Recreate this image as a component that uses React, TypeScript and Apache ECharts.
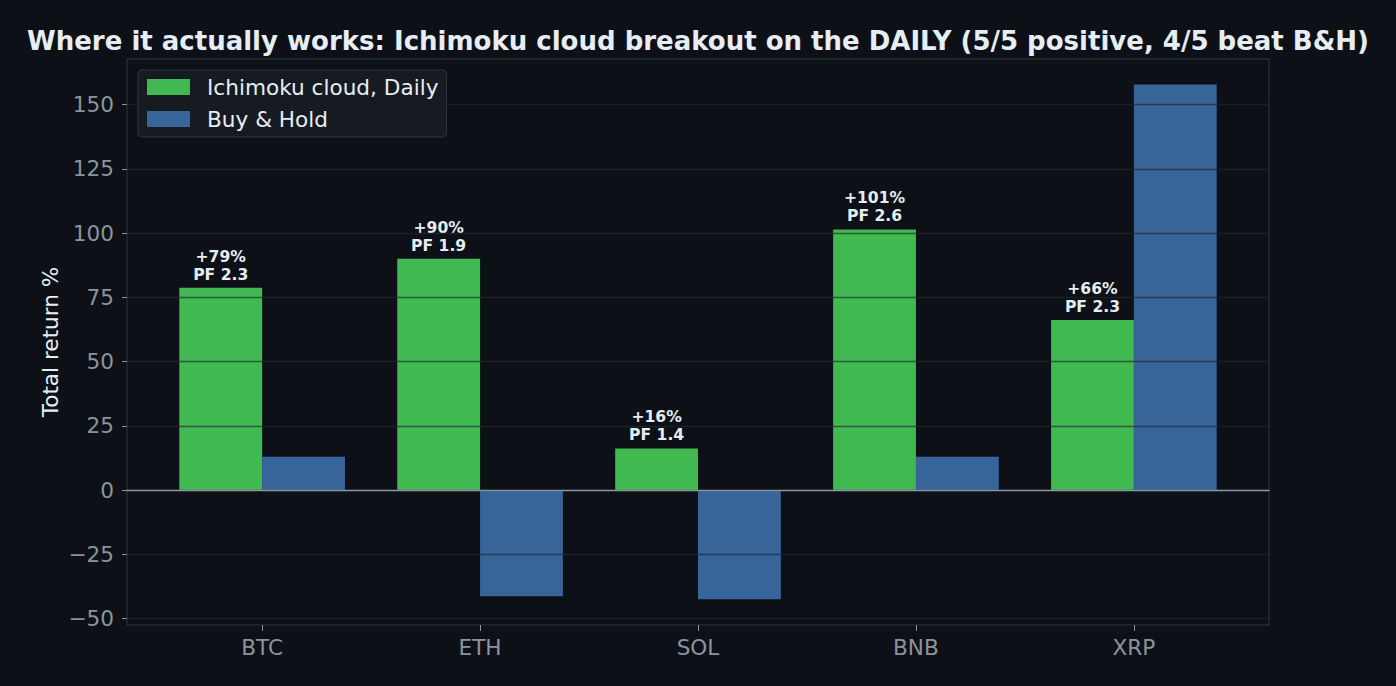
import React, { useEffect, useRef } from "react";
import * as echarts from "echarts";

const categories = ["BTC", "ETH", "SOL", "BNB", "XRP"];
const ichimokuReturns = [78.7, 90.0, 16.2, 101.4, 66.2];
const buyHoldReturns = [13.0, -41.3, -42.5, 13.0, 157.8];
const profitFactors = [2.3, 1.9, 1.4, 2.6, 2.3];
const yTickMin = -50;
const yTickMax = 150;
const yTickStep = 25;

const W = 1396;
const H = 686;
const plotLeft = 127;
const plotRight = 127;
const plotTop = 59;
const plotBottom = 61;
const yMin = -52.5;
const yMax = 167.7;
const xPad = 0.62; // category units of padding on each side of the outer bar centers

const BG = "#0d1117";
const FRAME = "#30363d";
const TEXT = "#e6edf3";
const MUTED = "#8b949e";
const GREEN = "#40b950";
const BLUE = "#386599";
const FS = 21.6;

export default function App() {
  const ref = useRef<HTMLDivElement>(null);
  useEffect(() => {
    if (!ref.current) return;
    const chart = echarts.init(ref.current, undefined, { renderer: "svg" });
    const plotH = H - plotTop - plotBottom;
    const pxPerUnit = plotH / (yMax - yMin);
    const tickTop = plotTop + (yMax - yTickMax) * pxPerUnit;
    const tickBottom = plotBottom + (yTickMin - yMin) * pxPerUnit;
    const plotW = W - plotLeft - plotRight;
    const catW = plotW / (categories.length - 1 + 2 * xPad);
    const barSide = plotLeft + (xPad - 0.5) * catW;

    chart.setOption({
      animation: false,
      backgroundColor: BG,
      title: {
        text: "Where it actually works: Ichimoku cloud breakout on the DAILY (5/5 positive, 4/5 beat B&H)",
        left: "center",
        top: 28,
        padding: 0,
        textStyle: {
          color: TEXT,
          fontFamily: "DejaVu Sans",
          fontWeight: "bold",
          fontSize: 26,
        },
      },
      legend: {
        orient: "vertical",
        left: 138,
        top: 70,
        z: 8,
        padding: [5, 8, 6, 9],
        itemGap: 8,
        itemWidth: 43,
        itemHeight: 16,
        backgroundColor: "#161b22",
        borderColor: FRAME,
        borderWidth: 1,
        borderRadius: 4,
        icon: "rect",
        textStyle: {
          color: TEXT,
          fontFamily: "DejaVu Sans",
          fontSize: FS,
          lineHeight: 24,
          padding: [0, 0, 0, 12],
        },
        data: ["Ichimoku cloud, Daily", "Buy & Hold"],
      },
      grid: [
        {
          left: plotLeft,
          right: plotRight,
          top: plotTop,
          bottom: plotBottom,
          show: true,
          backgroundColor: BG,
          borderColor: FRAME,
          borderWidth: 1,
          containLabel: false,
        },
        {
          left: plotLeft,
          right: plotRight,
          top: tickTop,
          bottom: tickBottom,
          containLabel: false,
        },
        {
          left: barSide,
          right: barSide,
          top: plotTop,
          bottom: plotBottom,
          containLabel: false,
        },
      ],
      xAxis: [
        {
          gridIndex: 0,
          type: "value",
          min: 0,
          max: 1,
          z: 5,
          axisLine: { show: true, onZero: true, lineStyle: { color: MUTED, width: 1.3 } },
          axisTick: { show: false },
          axisLabel: { show: false },
          splitLine: { show: false },
        },
        {
          gridIndex: 1,
          type: "value",
          show: false,
          min: 0,
          max: 1,
        },
        {
          gridIndex: 2,
          type: "category",
          data: categories,
          boundaryGap: true,
          z: 5,
          axisLine: { show: false, onZero: false },
          axisTick: {
            show: true,
            alignWithLabel: true,
            length: 6,
            lineStyle: { color: MUTED, width: 1 },
          },
          axisLabel: {
            color: MUTED,
            fontFamily: "DejaVu Sans",
            fontSize: FS,
            margin: 11,
          },
          splitLine: { show: false },
        },
      ],
      yAxis: [
        {
          gridIndex: 0,
          type: "value",
          min: yMin,
          max: yMax,
          name: "Total return %",
          nameLocation: "middle",
          nameGap: 66,
          nameTextStyle: { color: TEXT, fontFamily: "DejaVu Sans", fontSize: FS },
          axisLine: { show: false },
          axisTick: { show: false },
          axisLabel: { show: false },
          splitLine: { show: false },
        },
        {
          gridIndex: 1,
          type: "value",
          min: yTickMin,
          max: yTickMax,
          interval: yTickStep,
          z: 4,
          axisLine: { show: false },
          axisTick: { show: true, length: 5, lineStyle: { color: MUTED, width: 1 } },
          axisLabel: {
            color: MUTED,
            fontFamily: "DejaVu Sans",
            fontSize: FS,
            margin: 13,
            formatter: (v: number) => (v < 0 ? "\u2212" + Math.abs(v) : String(v)),
          },
          splitLine: { show: true, lineStyle: { color: "rgba(34,39,46,0.65)", width: 1.3 } },
        },
        {
          gridIndex: 2,
          type: "value",
          min: yMin,
          max: yMax,
          show: false,
          splitLine: { show: false },
        },
      ],
      series: [
        {
          name: "Ichimoku cloud, Daily",
          type: "bar",
          xAxisIndex: 2,
          yAxisIndex: 2,
          data: ichimokuReturns,
          barWidth: "38%",
          barGap: "0%",
          itemStyle: { color: GREEN },
          z: 2,
          label: {
            show: true,
            position: "top",
            distance: 4,
            color: TEXT,
            fontFamily: "DejaVu Sans",
            fontWeight: "bold",
            fontSize: 15.6,
            lineHeight: 18,
            align: "center",
            formatter: (p: any) =>
              `${p.value >= 0 ? "+" : ""}${Math.round(p.value)}%\nPF ${profitFactors[p.dataIndex].toFixed(1)}`,
          },
        },
        {
          name: "Buy & Hold",
          type: "bar",
          xAxisIndex: 2,
          yAxisIndex: 2,
          data: buyHoldReturns,
          barWidth: "38%",
          barGap: "0%",
          itemStyle: { color: BLUE },
          z: 2,
        },
      ],
    });
    return () => chart.dispose();
  }, []);

  return (
    <div
      ref={ref}
      style={{ position: "fixed", left: 0, top: 0, width: W, height: H, background: BG }}
    />
  );
}
